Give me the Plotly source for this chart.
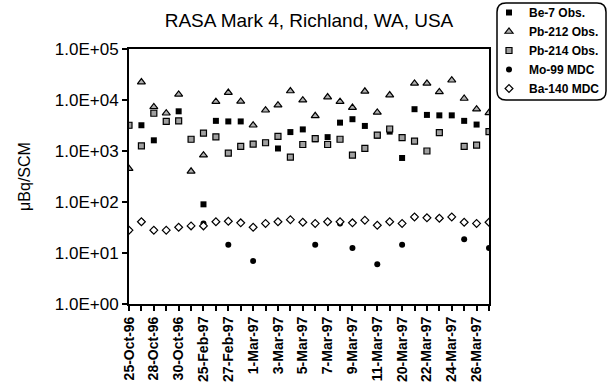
import plotly.graph_objects as go

# ---- data ----
dates = ["25-Oct-96", "26-Oct-96", "28-Oct-96", "29-Oct-96", "30-Oct-96", "31-Oct-96",
         "25-Feb-97", "26-Feb-97", "27-Feb-97", "28-Feb-97", "1-Mar-97", "2-Mar-97",
         "3-Mar-97", "4-Mar-97", "5-Mar-97", "6-Mar-97", "7-Mar-97", "8-Mar-97",
         "9-Mar-97", "10-Mar-97", "11-Mar-97", "12-Mar-97", "20-Mar-97", "21-Mar-97",
         "22-Mar-97", "23-Mar-97", "24-Mar-97", "25-Mar-97", "26-Mar-97", "27-Mar-97"]
date_labels = [d if i % 2 == 0 else "" for i, d in enumerate(dates)]

be7 = [3200, 3200, 1620, 3800, 6000, 1700, 90, 3900, 3800, 3800,
       1370, 1450, 1120, 2350, 2650, 1700, 1870, 3600, 4200, 3100,
       2000, 2400, 730, 6600, 5100, 5000, 5000, 3900, 3300, 2400]
pb212 = [450, 22500, 7300, 5500, 12900, 400, 830, 9300, 14000, 9400,
         3200, 6300, 7900, 15000, 9900, 4900, 11400, 9300, 7100, 14800,
         5700, 12500, None, 21200, 21200, 14400, 24400, 10700, 6600, 5600]
pb214 = [3200, 1260, 5500, 3800, 3900, 1700, 2240, 1900, 910, 1230,
         1370, 1450, 1940, 760, 1340, 1750, 1340, 1700, 830, 1130,
         2050, 2700, 1830, 1560, 1000, 2300, None, 1230, 1300, 2400]
mo99 = [28, 41, 28, None, None, None, 38, None, 14.5, None,
        7.0, 38, None, None, None, 14.5, None, 38, 12.5, None,
        6.0, None, 14.5, 51, 49, 48, 51, 18.7, 38, 12.5]
ba140 = [28, 41, 28, 28, 32, 34, 34, 41, 42, 39,
         32, 38, 41, 45, 40, 38, 41, 41, 39, 44,
         35, 41, 38, 51, 49, 48, 51, 40, 38, 40]

y_tickvals = [1, 10, 100, 1000, 10000, 100000]
y_ticktext = ["1.0E+00", "1.0E+01", "1.0E+02", "1.0E+03", "1.0E+04", "1.0E+05"]

# ---- figure ----
fig = go.Figure()
fig.add_trace(go.Scatter(x=dates, y=be7, mode="markers", name="Be-7 Obs.",
                         marker=dict(symbol="square", size=6, color="black")))
fig.add_trace(go.Scatter(x=dates, y=pb212, mode="markers", name="Pb-212 Obs.",
                         marker=dict(symbol="triangle-up", size=7, color="#b0b0b0",
                                     line=dict(color="black", width=1.2))))
fig.add_trace(go.Scatter(x=dates, y=pb214, mode="markers", name="Pb-214 Obs.",
                         marker=dict(symbol="square", size=6, color="#a0a0a0",
                                     line=dict(color="black", width=1.2))))
fig.add_trace(go.Scatter(x=dates, y=mo99, mode="markers", name="Mo-99 MDC",
                         marker=dict(symbol="circle", size=6, color="black")))
fig.add_trace(go.Scatter(x=dates, y=ba140, mode="markers", name="Ba-140 MDC",
                         marker=dict(symbol="diamond", size=6, color="white",
                                     line=dict(color="black", width=1.2))))

L, R, T, B = 129, 489, 49, 304
W, H = 608, 390

fig.update_layout(
    width=W, height=H,
    margin=dict(l=L, r=W - R, t=T, b=H - B, autoexpand=False),
    paper_bgcolor="white", plot_bgcolor="white",
    font=dict(family="Liberation Sans, Arial, sans-serif", color="black"),
    title=dict(text="RASA Mark 4, Richland, WA, USA", x=0.5, xref="paper",
               y=1 - 20 / H, yanchor="middle", xanchor="center",
               font=dict(size=19, color="black")),
    showlegend=True,
    legend=dict(x=(489 - L) / (R - L), y=(B + 2) / (B - T), xanchor="left", yanchor="top",
                bgcolor="rgba(0,0,0,0)", borderwidth=0,
                font=dict(size=12, color="black", family="Liberation Sans, Arial, sans-serif", weight="bold"),
                itemwidth=30, tracegroupgap=0),
    xaxis=dict(type="category", categoryorder="array", categoryarray=dates,
               range=[0, len(dates) - 1],
               tickmode="array", tickvals=dates, ticktext=date_labels,
               tickangle=-90, ticks="outside", ticklen=5, tickwidth=1.5, tickcolor="black",
               tickfont=dict(size=14, weight="bold"),
               showline=True, linecolor="black", linewidth=2, mirror=True,
               showgrid=False, zeroline=False),
    xaxis2=dict(type="category", categoryorder="array", categoryarray=dates,
                range=[0, len(dates) - 1], overlaying="x", anchor="y",
                tickmode="array", tickvals=dates, ticktext=["" for _ in dates],
                ticks="inside", ticklen=5, tickwidth=1.5, tickcolor="black",
                showticklabels=False, showline=False, showgrid=False, zeroline=False,
                side="bottom"),
    yaxis=dict(type="log", range=[0, 5], tickmode="array",
               tickvals=y_tickvals, ticktext=y_ticktext,
               ticks="outside", ticklen=5, tickwidth=1.5, tickcolor="black",
               tickfont=dict(size=17),
               showline=True, linecolor="black", linewidth=2, mirror=True,
               showgrid=False, zeroline=False,
               title=dict(text="\u03bcBq/SCM", font=dict(size=16), standoff=20)),
)

# rounded legend frame (paper coordinates)
x0 = (497 - L) / (R - L)
x1 = (606 - L) / (R - L)
y1 = (B - 3) / (B - T)
y0 = (B - 100) / (B - T)
rx = 9 / (R - L)
ry = 9 / (B - T)
path = (f"M {x0+rx},{y1} L {x1-rx},{y1} Q {x1},{y1} {x1},{y1-ry} "
        f"L {x1},{y0+ry} Q {x1},{y0} {x1-rx},{y0} L {x0+rx},{y0} "
        f"Q {x0},{y0} {x0},{y0+ry} L {x0},{y1-ry} Q {x0},{y1} {x0+rx},{y1} Z")
fig.add_shape(type="path", path=path, xref="paper", yref="paper",
              line=dict(color="black", width=1.5), fillcolor="rgba(0,0,0,0)")

fig.write_html("out.html")
